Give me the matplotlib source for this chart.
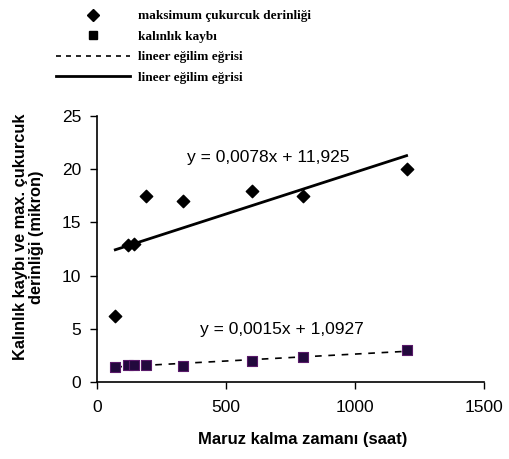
import matplotlib
matplotlib.use("Agg")
import matplotlib.pyplot as plt
import numpy as np
from matplotlib.lines import Line2D

hours = [72, 120, 144, 192, 336, 600, 800, 1200]
pit_depth = [6.2, 12.9, 13.0, 17.5, 17.0, 18.0, 17.5, 20.0]
thick_loss = [1.4, 1.6, 1.6, 1.6, 1.5, 2.0, 2.3, 3.0]
eq_pit = "y = 0,0078x + 11,925"
eq_thick = "y = 0,0015x + 1,0927"
legend_labels = ["maksimum çukurcuk derinliği", "kalınlık kaybı",
                 "lineer eğilim eğrisi", "lineer eğilim eğrisi"]
xticks = [0, 500, 1000, 1500]
yticks = [0, 5, 10, 15, 20, 25]

plt.rcParams['font.family'] = ['Liberation Sans', 'DejaVu Sans']

fig = plt.figure(figsize=(5.09, 4.59), dpi=100)
ax = fig.add_axes([0.19, 0.168, 0.761, 0.579])

x = np.array(hours, dtype=float)
p1 = np.polyfit(x, pit_depth, 1)
p2 = np.polyfit(x, thick_loss, 1)
xl = np.array([x.min(), x.max()])

ax.plot(xl, np.polyval(p1, xl), color='black', lw=2.0, zorder=2)
ax.plot(xl, np.polyval(p2, xl), color='black', lw=1.2, ls=(0, (4, 4)), zorder=2)
ax.scatter(hours, pit_depth, marker='D', s=40, color='black', zorder=3)
ax.scatter(hours, thick_loss, marker='s', s=45, facecolor='#22093d',
           edgecolor='#5a1a6a', lw=0.8, zorder=3)

ax.text(349, 21.1, eq_pit, fontsize=12.5, va='center', ha='left')
ax.text(400, 4.9, eq_thick, fontsize=12.5, va='center', ha='left')

ax.set_xlim(0, 1500)
ax.set_ylim(0, 25)
ax.set_xticks(xticks)
ax.set_yticks(yticks)
ax.tick_params(direction='out', length=5, width=1, labelsize=12.5)
ax.tick_params(axis='x', pad=8)
ax.tick_params(axis='y', pad=6)
for s in ['top', 'right']:
    ax.spines[s].set_visible(False)
for s in ['left', 'bottom']:
    ax.spines[s].set_linewidth(1.2)

ax.set_xlabel("Maruz kalma zamanı (saat)", fontsize=12, fontweight='bold')
ax.xaxis.set_label_coords(0.532, -0.19)
ax.set_ylabel("Kalınlık kaybı ve max. çukurcuk\nderinliği (mikron)", fontsize=11.8,
              fontweight='bold', linespacing=1.1)
ax.yaxis.set_label_coords(-0.135, 0.545)

handles = [
    Line2D([], [], marker='D', color='black', ls='none', markersize=6),
    Line2D([], [], marker='s', color='black', ls='none', markersize=6),
    Line2D([], [], color='black', ls=(0, (3, 3)), lw=1.2),
    Line2D([], [], color='black', lw=2.0),
]
fig.legend(handles, legend_labels, loc='upper left', bbox_to_anchor=(0.095, 0.995),
           frameon=False, prop={'family': ['Liberation Serif', 'DejaVu Serif'],
                                'weight': 'bold', 'size': 9.5},
           handlelength=5.6, handletextpad=0.6, labelspacing=0.62, borderaxespad=0.2)

fig.savefig("out.png", dpi=100)
